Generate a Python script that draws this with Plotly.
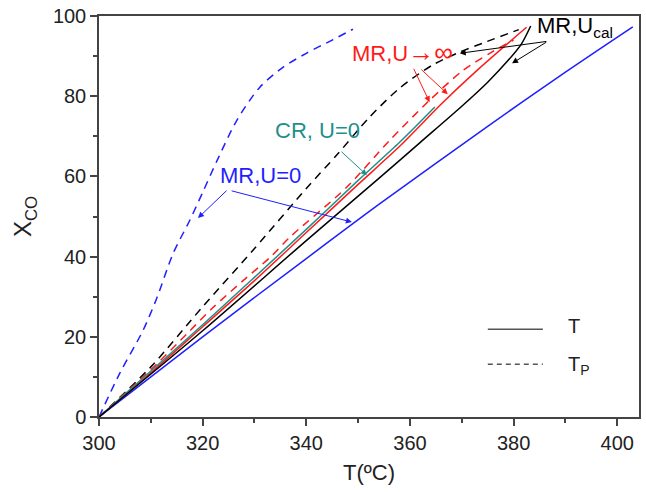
import plotly.graph_objects as go

# ---- data ----
mr_u0_T_t = [300, 320, 340, 354, 375, 390, 403]
mr_u0_T_x = [0, 20, 39.5, 53, 72.5, 86, 97.3]

mr_u0_Tp_t = [300, 304, 308.5, 311.2, 314.3, 317.5, 320, 322.8, 326.6, 331, 335.5, 340, 345, 349]
mr_u0_Tp_x = [0, 10.9, 21.6, 29.8, 40.8, 49, 56, 64, 74, 82.2, 87.2, 90.7, 94, 96.7]

mr_ucal_Tp_t = [300, 310, 320, 330, 340, 346, 352, 358, 364.4, 369.6, 374.8, 381]
mr_ucal_Tp_x = [0, 12.5, 27.5, 42, 57, 65.5, 74.5, 82, 87.8, 91, 93.6, 96.6]

mr_uinf_Tp_t = [300, 311.2, 317, 322, 327.8, 333, 336.8, 347.8, 356.1, 363.8, 370.2, 375.4, 380]
mr_uinf_Tp_x = [0, 13.3, 20.8, 27.3, 34, 39.8, 44.8, 57.3, 69, 79, 86.4, 90.7, 94]

mr_uinf_T_t = [300, 310, 320, 330, 340, 350, 358, 366, 373, 382.5]
mr_uinf_T_x = [0, 11, 22.5, 34, 46, 58, 67.5, 78, 86.5, 97.2]

cr_u0_T_t = [300, 320, 340, 350, 358, 364.8]
cr_u0_T_x = [0, 23, 46.8, 59, 68.5, 77.3]

mr_ucal_T_t = [300, 320, 340, 354, 362, 370, 375, 379, 381.5, 383.3]
mr_ucal_T_x = [0, 21.5, 44, 59.5, 68.5, 77.5, 83.5, 89, 93, 97.5]

x_ticks = [300, 320, 340, 360, 380, 400]
y_ticks = [0, 20, 40, 60, 80, 100]

BLUE = "#1f1fff"
RED = "#ff1a1a"
BLACK = "#000000"
TEAL = "#1f8f8a"
FONT = "Liberation Sans, Arial, sans-serif"

fig = go.Figure()

def add(t, x, color, dash):
    fig.add_trace(go.Scatter(x=t, y=x, mode="lines", showlegend=False,
                             line=dict(color=color, width=1.5, dash=dash,
                                       shape="spline", smoothing=0.8),
                             hoverinfo="skip"))

add(mr_u0_T_t, mr_u0_T_x, BLUE, "solid")
add(mr_u0_Tp_t, mr_u0_Tp_x, BLUE, "8px,6px")
add(mr_ucal_Tp_t, mr_ucal_Tp_x, BLACK, "8px,6px")
add(mr_uinf_Tp_t, mr_uinf_Tp_x, RED, "8px,6px")
add(mr_uinf_T_t, mr_uinf_T_x, RED, "solid")
add(cr_u0_T_t, cr_u0_T_x, TEAL, "solid")
add(mr_ucal_T_t, mr_ucal_T_x, BLACK, "solid")

ann = []
def label(x, y, text, color):
    ann.append(dict(x=x, y=y, xref="x", yref="y", text=text, showarrow=False,
                    xanchor="left", yanchor="middle",
                    font=dict(family=FONT, size=22, color=color)))

def arrow(x0, y0, x1, y1, color):
    ann.append(dict(x=x1, y=y1, ax=x0, ay=y0, xref="x", yref="y", axref="x", ayref="y",
                    text="", showarrow=True, arrowhead=2, arrowsize=1.2,
                    arrowwidth=1, arrowcolor=color))

label(384.1, 97.3, "MR,U<sub>cal</sub>", BLACK)
arrow(386.6, 93.7, 369.6, 90.7, BLACK)
arrow(386.6, 93.7, 379.7, 88.2, BLACK)

label(348.4, 90.9, "MR,U<span style='font-size:26px'>→∞</span>", RED)
arrow(360.6, 87.2, 363.8, 78.5, RED)
arrow(361.9, 87.0, 367.3, 80.5, RED)

label(333.6, 71.5, "CR, U=0", TEAL)
arrow(346.5, 66.5, 351.7, 60.3, TEAL)

label(323.0, 60.3, "MR,U=0", BLUE)
arrow(324.9, 56.8, 319.1, 49.6, BLUE)
arrow(325.3, 56.5, 348.8, 48.6, BLUE)

# legend drawn as line samples + text
shapes = [
    dict(type="line", xref="paper", yref="paper", x0=0.720, x1=0.822, y0=0.219, y1=0.219,
         line=dict(color="#555555", width=1.5)),
    dict(type="line", xref="paper", yref="paper", x0=0.720, x1=0.822, y0=0.1315, y1=0.1315,
         line=dict(color="#555555", width=1.5, dash="5px,4px")),
]
ann.append(dict(x=0.865, y=0.226, xref="paper", yref="paper", text="T", showarrow=False,
                xanchor="left", yanchor="middle", font=dict(family=FONT, size=20, color="#222")))
ann.append(dict(x=0.865, y=0.128, xref="paper", yref="paper", text="T<sub>P</sub>", showarrow=False,
                xanchor="left", yanchor="middle", font=dict(family=FONT, size=20, color="#222")))

axis_common = dict(showline=True, linecolor="#444444", linewidth=1.5, mirror=True,
                   ticks="outside", ticklen=7, tickwidth=1.5, tickcolor="#444444",
                   showgrid=False, zeroline=False, automargin=False,
                   tickfont=dict(family=FONT, size=20, color="#222222"))

fig.update_xaxes(range=[300, 404.2], tickvals=x_ticks, ticktext=[str(v) for v in x_ticks],
                 minor=dict(dtick=10, tick0=300, ticks="outside", ticklen=4, tickcolor="#444444", tickwidth=1.5),
                 title=dict(text="T(ºC)", font=dict(family=FONT, size=22, color="#222"), standoff=12),
                 **axis_common)
fig.update_yaxes(range=[0, 100], tickvals=y_ticks, ticktext=[str(v) for v in y_ticks],
                 minor=dict(dtick=10, tick0=0, ticks="outside", ticklen=4, tickcolor="#444444", tickwidth=1.5),
                 title=dict(text="X<sub>CO</sub>", font=dict(family=FONT, size=24, color="#222"), standoff=14),
                 **axis_common)

fig.update_layout(width=646, height=492, margin=dict(l=99, r=7, t=16, b=75),
                  plot_bgcolor="white", paper_bgcolor="white",
                  annotations=ann, shapes=shapes, showlegend=False)

fig.write_html("out.html", config={"displayModeBar": False},
               post_script="document.body.style.margin='0';document.body.style.padding='0';")
